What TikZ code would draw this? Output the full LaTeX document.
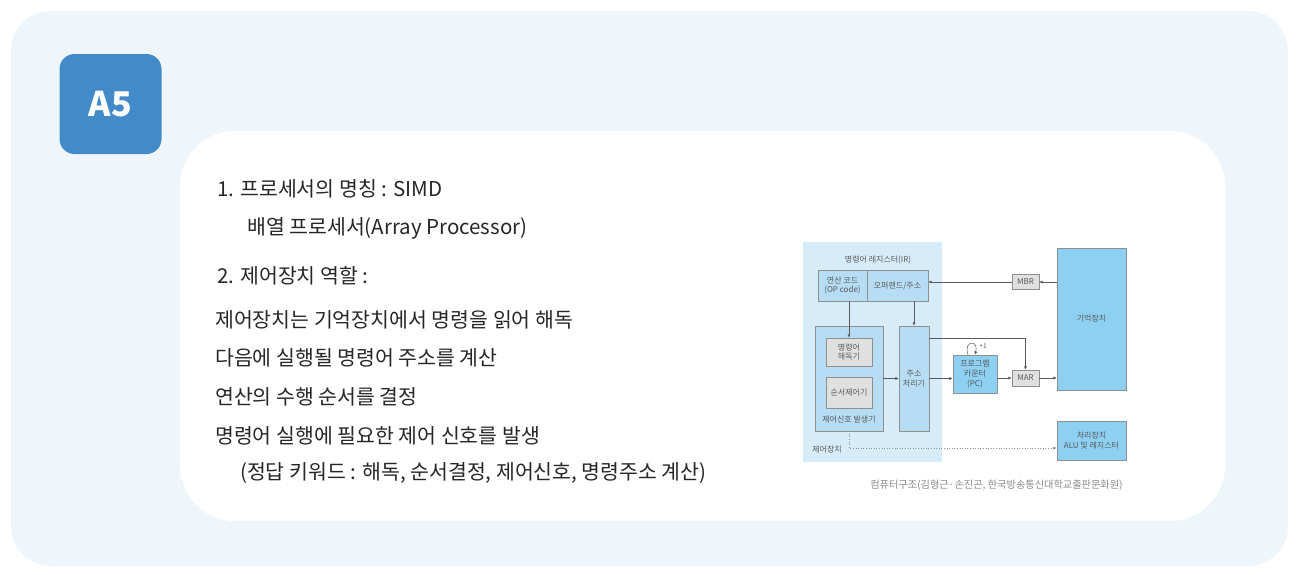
\documentclass[tikz,border=0pt]{standalone}
\usepackage{fontspec}
\setmainfont{Noto Sans CJK KR}
\usetikzlibrary{arrows.meta,shadows}
\definecolor{panel}{HTML}{EEF6FB}
\definecolor{abl}{HTML}{428BC8}
\definecolor{tdark}{HTML}{262626}
\definecolor{cubg}{HTML}{D7ECF9}
\definecolor{lblue}{HTML}{B6DDF4}
\definecolor{sky}{HTML}{8DD0F1}
\definecolor{gfill}{HTML}{E0E0E0}
\definecolor{bord}{HTML}{8F8F8F}
\definecolor{dtext}{HTML}{5A5A5A}
\definecolor{capg}{HTML}{8A8A8A}
\tikzset{
  body/.style={anchor=west, inner sep=0pt, text=tdark, font=\fontsize{20.5}{24}\selectfont},
  dfont/.style={font=\fontsize{8}{9.6}\selectfont, text=dtext, align=center},
  lbox/.style={dfont, draw=bord, fill=lblue, line width=0.5pt, inner sep=0pt},
  gbox/.style={dfont, draw=bord, fill=gfill, line width=0.5pt, inner sep=0pt},
  sbox/.style={dfont, draw=bord, fill=sky, line width=0.5pt, inner sep=0pt,
     drop shadow={shadow xshift=1.3pt, shadow yshift=-1.3pt, fill=black!45, opacity=0.8}},
  arr/.style={draw=dtext, line width=0.5pt, -{Latex[length=3.4pt,width=3pt]}},
  dotarr/.style={draw=bord, line width=0.6pt, dash pattern=on 1pt off 1.6pt, -{Latex[length=3.4pt,width=3pt]}},
  txt/.style={dfont, inner sep=0pt}
}
\begin{document}
\begin{tikzpicture}[x=1pt,y=-1pt]
\useasboundingbox (0,0) rectangle (1302,574);
\fill[white] (0,0) rectangle (1302,574);
% panels
\node[fill=panel, rounded corners=40pt, minimum width=1277pt, minimum height=555pt, inner sep=0pt] (outer) at (649.5,288.5) {};
\node[fill=abl, rounded corners=15pt, minimum width=102pt, minimum height=100pt, inner sep=0pt,
      text=white, font=\fontsize{34}{34}\selectfont\bfseries] (a5) at (110.5,104) {A5};
\node[fill=white, rounded corners=55pt, minimum width=1045pt, minimum height=390pt, inner sep=0pt] (inner) at (702.5,326) {};
% text
\node[body] (t1) at (217,189) {1. 프로세서의 명칭 : SIMD};
\node[body] (t2) at (247,228) {배열 프로세서(Array Processor)};
\node[body] (t3) at (217,276) {2. 제어장치 역할 :};
\node[body] (t4) at (215,320) {제어장치는 기억장치에서 명령을 읽어 해독};
\node[body] (t5) at (215,358) {다음에 실행될 명령어 주소를 계산};
\node[body] (t6) at (215,397) {연산의 수행 순서를 결정};
\node[body] (t7) at (215,436) {명령어 실행에 필요한 제어 신호를 발생};
\node[body] (t8) at (240,473) {(정답 키워드 : 해독, 순서결정, 제어신호, 명령주소 계산)};
% diagram
\node[fill=cubg, minimum width=139pt, minimum height=220pt, inner sep=0pt] (cu) at (872.5,352) {};
\node[txt] (irl) at (878,260) {명령어 레지스터(IR)};
\node[lbox, minimum width=49pt, minimum height=31pt] (op) at (842.5,285.5) {연산 코드\\(OP code)};
\node[lbox, minimum width=61pt, minimum height=31pt] (opr) at (897.5,285.5) {오퍼랜드/주소};
\node[lbox, minimum width=68pt, minimum height=105pt] (csg) at (849,378.5) {};
\node[gbox, minimum width=46pt, minimum height=28pt] (dec) at (849,352) {명령어\\해독기};
\node[gbox, minimum width=46pt, minimum height=31pt] (seq) at (849,392.5) {순서제어기};
\node[txt] (csgl) at (849,420) {제어신호 발생기};
\node[lbox, minimum width=30pt, minimum height=105pt] (ap) at (914,378.5) {주소\\처리기};
\node[txt] (cul) at (827,449) {제어장치};
\node[sbox, minimum width=69pt, minimum height=142pt] (mem) at (1091.5,319) {기억장치};
\node[gbox, minimum width=27pt, minimum height=15pt] (mbr) at (1025.5,282) {MBR};
\node[gbox, minimum width=27pt, minimum height=16pt] (mar) at (1025.5,378) {MAR};
\node[sbox, minimum width=44pt, minimum height=38pt] (pc) at (975,374) {프로그램\\카운터\\(\textit{PC})};
\node[sbox, minimum width=69pt, minimum height=39pt] (alu) at (1091.5,440.5) {처리장치\\ALU 및 레지스터};
\node[txt, text=capg, font=\fontsize{10.2}{11}\selectfont] (cap) at (996.5,485) {컴퓨터구조(김형근·손진곤, 한국방송통신대학교출판문화원)};
\node[txt, font=\fontsize{6.5}{7}\selectfont] (plus) at (983,346) {+1};
% connectors
\draw[arr] (mem.west |- mbr) -- (mbr.east);
\draw[arr] (mbr.west) -- (opr.east |- mbr);
\draw[arr] (dec.north |- op.south) -- (dec.north);
\draw[arr] (ap.north |- opr.south) -- (ap.north);
\draw[arr] (csg.east) -- (ap.west);
\draw[arr] (ap.east) -- (pc.west |- ap.east);
\draw[arr] (pc.east |- mar) -- (mar.west);
\draw[arr] (mar.east) -- (mem.west |- mar.east);
\draw[arr] ([yshift=-12pt]ap.north east) -| (mar.north);
\draw[arr] ([xshift=-7pt]pc.north) .. controls +(-5,-15) and +(4,-15) .. (pc.north);
\draw[dotarr] (csg.south) |- ([yshift=-7.5pt]alu.west);
\end{tikzpicture}
\end{document}
